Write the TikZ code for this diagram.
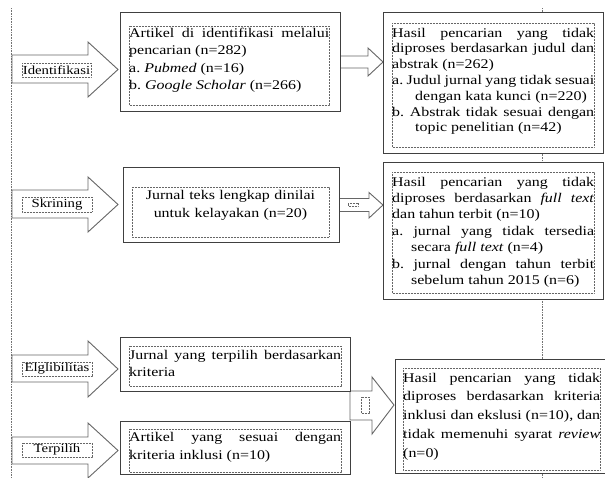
\documentclass[tikz,border=0pt]{standalone}
\usepackage{fontspec}
\setmainfont{Liberation Serif}[FakeStretch=1.2]
\begin{document}
\begin{tikzpicture}[x=1pt,y=-1pt,
 outerbox/.style={draw=black!75, line width=0.9pt, fill=white, inner sep=0pt},
 innerbox/.style={draw=black!60, line width=0.7pt, dash pattern=on 0.7pt off 0.8pt},
 guide/.style={draw=black!55, line width=0.8pt, dash pattern=on 0.8pt off 0.8pt},
 blockarrow/.style={draw=black!60, line width=0.9pt, fill=white, line join=miter},
 boxtext/.style={inner sep=0pt, anchor=north west, align=justify,
   font=\fontsize{13.3}{#1}\selectfont,
   execute at begin node={\tolerance=9999\hyphenpenalty=10000\parindent=0pt\frenchspacing\strut}},
 boxtext/.default=17,
 lbl/.style={inner sep=0pt, font=\fontsize{12.3}{14}\selectfont},
]
\useasboundingbox (0,0) rectangle (605,477);
\clip (0,0) rectangle (605,477);

% guide lines
\coordinate (gl1) at (11,8);
\coordinate (gl2) at (11,477);
\coordinate (gr1) at (542,8);
\coordinate (gr2) at (542,477);
\draw[guide] (gl1) -- (gl2);
\draw[guide] (gr1) -- (gr2);

% stage arrows on the left
\draw[blockarrow] (12,55) -- (88,55) -- (88,42) -- (118,69.5) -- (88,97) -- (88,83) -- (12,83) -- cycle;
\draw[blockarrow] (12,190) -- (88,190) -- (88,177) -- (118,204.5) -- (88,232) -- (88,218) -- (12,218) -- cycle;
\draw[blockarrow] (12,355) -- (88,355) -- (88,341) -- (118,369) -- (88,397) -- (88,382) -- (12,382) -- cycle;
\draw[blockarrow] (12,437) -- (88,437) -- (88,423) -- (118,450.5) -- (88,478) -- (88,464) -- (12,464) -- cycle;

\draw[innerbox] (22,63) rectangle (91,77);
\draw[innerbox] (22,197) rectangle (92,212);
\draw[innerbox] (22,362) rectangle (92,376);
\draw[innerbox] (22,443) rectangle (92,457);
\node[lbl] (l1) at (56.5,70) {Identifikasi};
\node[lbl] (l2) at (57,204.5) {Skrining};
\node[lbl] (l3) at (57,369) {Elglibilitas};
\node[lbl] (l4) at (57,450) {Terpilih};

% arrows between boxes
\draw[blockarrow] (340,56) -- (368,56) -- (368,48) -- (383,62) -- (368,76) -- (368,68) -- (340,68) -- cycle;
\draw[blockarrow] (339,198.5) -- (369,198.5) -- (369,192.5) -- (383,205) -- (369,218) -- (369,211.5) -- (339,211.5) -- cycle;
\draw[innerbox] (348,203.5) rectangle (358,206);
\draw[blockarrow] (350,391) -- (372,391) -- (372,377) -- (394,405) -- (372,434) -- (372,420) -- (350,420) -- cycle;
\draw[innerbox] (361,397) rectangle (369,413);

% boxes
\node[outerbox, minimum width=220pt, minimum height=99pt] (b1) at (230,61.5) {};
\node[outerbox, minimum width=220pt, minimum height=141pt] (b2) at (493,82.5) {};
\node[outerbox, minimum width=216pt, minimum height=75pt] (b3) at (231,204.5) {};
\node[outerbox, minimum width=220pt, minimum height=137pt] (b4) at (493,230.5) {};
\node[outerbox, minimum width=230pt, minimum height=54pt] (b5) at (235,364) {};
\node[outerbox, minimum width=230pt, minimum height=53pt] (b6) at (235,447.5) {};
\node[outerbox, minimum width=212pt, minimum height=114pt] (b7) at (501,416) {};

\draw[innerbox] (129,26) rectangle (329,105);
\draw[innerbox] (392,23) rectangle (594,147);
\draw[innerbox] (132,187) rectangle (329,237);
\draw[innerbox] (392,172) rectangle (594,293);
\draw[innerbox] (129,346) rectangle (341,386);
\draw[innerbox] (129,429) rectangle (341,472);
\draw[innerbox] (403,368) rectangle (600,470);

% texts
\node[boxtext=17.3, text width=200pt] (t1) at (129,25.1)
 {Artikel di identifikasi melalui\linebreak pencarian (n=282)\par
  a. \textit{Pubmed} (n=16)\par
  b. \textit{Google Scholar} (n=266)\par};
\node[boxtext=15.8, text width=202pt] (t2) at (392,25.9)
 {Hasil pencarian yang tidak\linebreak diproses berdasarkan judul dan\linebreak abstrak (n=262)\par
  \hangindent=23pt\hangafter=1 a. Judul jurnal yang tidak sesuai\linebreak dengan kata kunci (n=220)\par
  \hangindent=23pt\hangafter=1 b. Abstrak tidak sesuai dengan\linebreak topic penelitian (n=42)\par};
\node[inner sep=0pt, anchor=north, align=center, text width=197pt,
      font=\fontsize{13.3}{18}\selectfont, execute at begin node=\strut] (t3) at (230.5,186.4)
 {Jurnal teks lengkap dinilai\\ untuk kelayakan (n=20)};
\node[boxtext=16.4, text width=202pt] (t4) at (392,174.5)
 {Hasil pencarian yang tidak\linebreak diproses berdasarkan \textit{full text}\linebreak dan tahun terbit (n=10)\par
  \hangindent=19pt\hangafter=1 a. jurnal yang tidak tersedia\linebreak secara \textit{full text} (n=4)\par
  \hangindent=19pt\hangafter=1 b. jurnal dengan tahun terbit\linebreak sebelum tahun 2015 (n=6)\par};
\node[boxtext=17, text width=212pt] (t5) at (129,347.1)
 {Jurnal yang terpilih berdasarkan\linebreak kriteria\par};
\node[boxtext=18, text width=212pt] (t6) at (129,428.4)
 {Artikel yang sesuai dengan\linebreak kriteria inklusi (n=10)\par};
\node[boxtext=18.8, text width=197pt] (t7) at (403,368.8)
 {Hasil pencarian yang tidak\linebreak diproses berdasarkan kriteria\linebreak inklusi dan ekslusi (n=10), dan\linebreak tidak memenuhi syarat \textit{review}\linebreak (n=0)\par};
\end{tikzpicture}
\end{document}
